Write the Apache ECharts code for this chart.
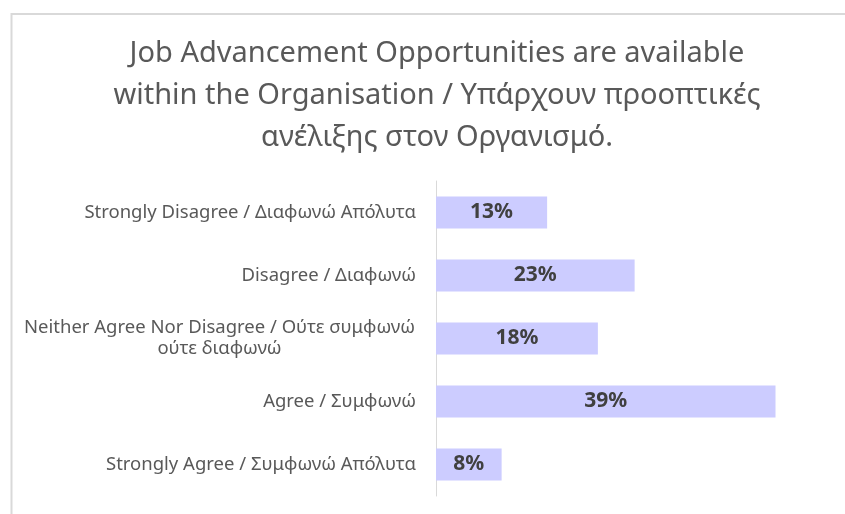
<!DOCTYPE html>
<html>
<head>
	<meta charset="utf-8">
	<title>Job Advancement Opportunities</title>
	<script src="https://cdn.jsdelivr.net/npm/echarts@6/dist/echarts.min.js"></script>
	<style>
		html, body { margin: 0; padding: 0; background: #fff; }
	</style>
</head>
<body>
	<div id="main" style="width: 845px;height: 514px;"></div>
</body>
<script type="text/javascript">
	// data (top to bottom)
	var categories = [
		'Strongly Disagree / Διαφωνώ Απόλυτα',
		'Disagree / Διαφωνώ',
		'Neither Agree Nor Disagree / Ούτε συμφωνώ\nούτε διαφωνώ',
		'Agree / Συμφωνώ',
		'Strongly Agree / Συμφωνώ Απόλυτα'
	];
	var values = [12.7, 22.7, 18.5, 38.8, 7.5];
	var valueLabels = ['13%', '23%', '18%', '39%', '8%'];
	var titleText = 'Job Advancement Opportunities are available\nwithin the Organisation / Υπάρχουν προοπτικές\nανέλιξης στον Οργανισμό.';

	var FONT = '"Noto Sans", "DejaVu Sans", sans-serif';
	var catSize = 18.5;

	// width of the longest line, so wrapped labels can be centred under it
	var ctx = document.createElement('canvas').getContext('2d');
	ctx.font = catSize + 'px "Noto Sans"';
	var wrapW = 0;
	categories.forEach(function (c) {
		if (c.indexOf('\n') >= 0) {
			c.split('\n').forEach(function (p) { wrapW = Math.max(wrapW, ctx.measureText(p).width); });
		}
	});
	wrapW = Math.ceil(wrapW) + 2;

	var myChart = echarts.init(document.getElementById('main'));
	var option = {
		backgroundColor: '#fff',
		animation: false,
		title: {
			text: titleText,
			left: 432,
			top: 28,
			textAlign: 'center',
			textStyle: {
				fontFamily: FONT,
				fontSize: 29,
				fontWeight: 'normal',
				color: '#595959',
				lineHeight: 42
			}
		},
		graphic: [{
			type: 'polyline',
			shape: { points: [[11.5, 600], [11.5, 14], [900, 14]] },
			style: { stroke: '#d9d9d9', lineWidth: 2, fill: null },
			silent: true
		}],
		grid: {
			left: 436,
			top: 181,
			width: 350,
			height: 315
		},
		xAxis: {
			type: 'value',
			min: 0,
			max: 40,
			show: false
		},
		yAxis: {
			type: 'category',
			inverse: true,
			data: categories,
			axisLine: { show: true, lineStyle: { color: '#d9d9d9', width: 1 } },
			axisTick: { show: false },
			axisLabel: {
				margin: 20,
				fontFamily: FONT,
				fontSize: catSize,
				color: '#595959',
				lineHeight: 21,
				formatter: function (v) {
					if (v.indexOf('\n') < 0) return v;
					return v.split('\n').map(function (p) { return '{w|' + p + '}'; }).join('\n');
				},
				rich: {
					w: {
						width: wrapW,
						align: 'center',
						fontFamily: FONT,
						fontSize: catSize,
						color: '#595959',
						lineHeight: 21
					}
				}
			}
		},
		series: [{
			type: 'bar',
			data: values,
			barWidth: 32,
			itemStyle: { color: '#ccccff' },
			label: {
				show: true,
				position: 'inside',
				fontFamily: FONT,
				fontSize: 21,
				fontWeight: 'bold',
				color: '#404040',
				formatter: function (p) { return valueLabels[p.dataIndex]; }
			}
		}]
	};
	myChart.setOption(option);
</script>
</html>
